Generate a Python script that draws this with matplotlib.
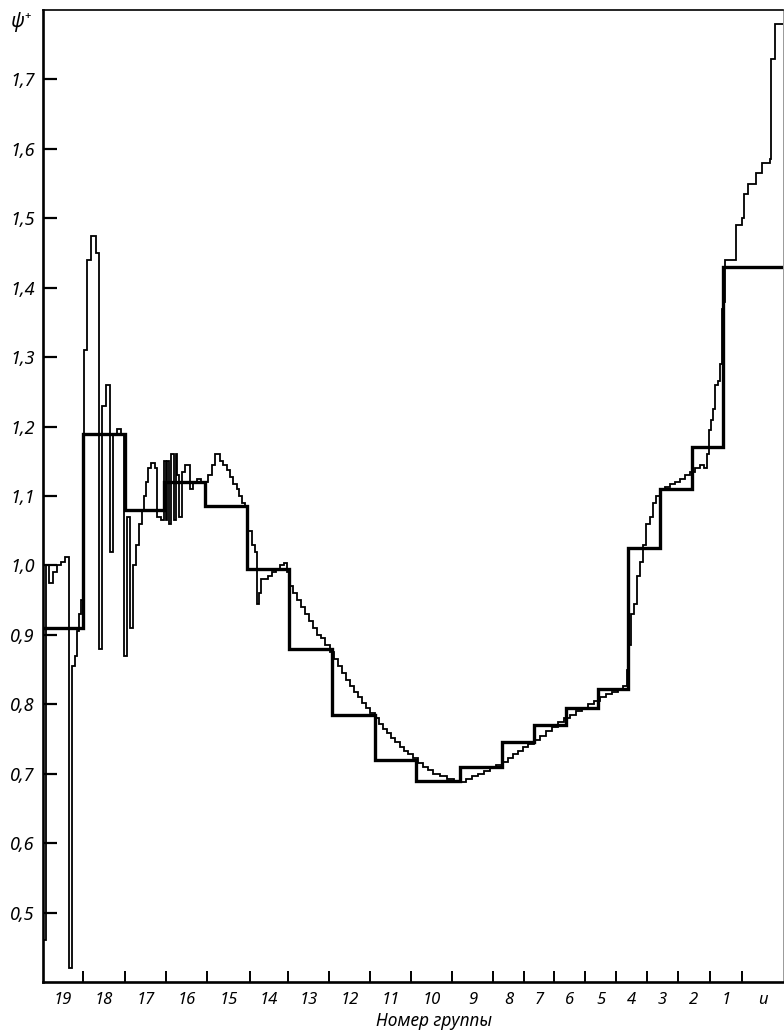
import numpy as np
import matplotlib
matplotlib.use("Agg")
import matplotlib.pyplot as plt
from matplotlib.ticker import FixedLocator, NullFormatter

plt.rcParams["font.family"] = ["Noto Sans", "DejaVu Sans"]

# ось абсцисс — летаргия в условных единицах (0..74)
X_MAX = 74.0

# групповые значения ψ+ (толстая ступенчатая линия)
group_names = ["19", "18", "17", "16", "15", "14", "13", "12", "11", "10",
               "9", "8", "7", "6", "5", "4", "3", "2", "1", "и"]
group_edges = [0.0, 4.0, 8.2, 12.1, 16.2, 20.4, 24.6, 28.9, 33.2, 37.3, 41.7,
               45.9, 49.1, 52.3, 55.5, 58.5, 61.7, 64.9, 68.0, 71.1, 74.0]
group_psi = [0.91, 1.19, 1.08, 1.12, 1.085, 0.995, 0.88, 0.785, 0.72, 0.69,
             0.71, 0.745, 0.77, 0.795, 0.822, 1.025, 1.11, 1.17, 1.43, 1.43]

# границы групп на шкале (штрихи оси)
tick_bounds = [4.0, 8.2, 12.3, 16.4, 20.7, 24.5, 28.6, 32.7, 36.8, 40.9,
               45.0, 48.1, 51.1, 54.2, 57.3, 60.4, 63.5, 66.7, 69.9]

# подробный ход ψ+ (тонкая линия), ступени «post»
fine_x = [0.0, 0.3, 0.6, 1.0, 1.4, 1.8, 2.2, 2.6, 2.9, 3.2,
          3.4, 3.6, 3.8, 4.0, 4.1, 4.4, 4.8, 5.3, 5.6, 5.9,
          6.3, 6.7, 7.0, 7.4, 7.8, 8.1, 8.4, 8.7, 9.0, 9.3,
          9.6, 9.9, 10.1, 10.3, 10.5, 10.8, 11.2, 11.4, 11.8, 12.1,
          12.3, 12.4, 12.6, 12.8, 13.1, 13.3, 13.4, 13.6, 13.9, 14.2,
          14.7, 15.0, 15.4, 15.8, 16.2, 16.5, 16.9, 17.2, 17.7, 18.0,
          18.4, 18.7, 19.0, 19.4, 19.6, 19.9, 20.2, 20.5, 20.9, 21.2,
          21.4, 21.6, 21.8, 22.2, 22.5, 22.9, 23.3, 23.7, 24.1, 24.4,
          24.7, 25.0, 25.4, 25.8, 26.2, 26.6, 27.0, 27.4, 27.8, 28.2,
          28.7, 29.1, 29.5, 29.9, 30.3, 30.7, 31.1, 31.5, 31.9, 32.3,
          32.7, 33.2, 33.6, 34.0, 34.4, 34.8, 35.2, 35.7, 36.1, 36.5,
          37.0, 37.5, 38.0, 38.5, 39.0, 39.7, 40.4, 41.1, 41.7, 42.3,
          42.9, 43.5, 44.1, 44.7, 45.3, 45.9, 46.5, 47.0, 47.5, 48.0,
          48.5, 49.1, 49.7, 50.3, 50.9, 51.5, 52.1, 52.7, 53.3, 53.9,
          54.5, 55.1, 55.7, 56.3, 56.9, 57.5, 58.0, 58.4, 58.6, 58.8,
          59.1, 59.4, 59.7, 60.0, 60.3, 60.7, 61.0, 61.3, 61.7, 62.2,
          62.7, 63.2, 63.7, 64.2, 64.7, 65.2, 65.7, 66.1, 66.4, 66.6,
          66.8, 67.0, 67.2, 67.5, 67.7, 67.9, 68.0, 68.2, 69.3, 69.9,
          70.1, 70.5, 71.3, 71.9, 72.7, 72.8, 73.2]
fine_psi = [0.46, 1.00, 0.975, 0.99, 1.00, 1.005, 1.012, 0.42, 0.855, 0.87,
            0.905, 0.93, 0.95, 1.0, 1.31, 1.44, 1.475, 1.45, 0.88, 1.23,
            1.26, 1.02, 1.19, 1.197, 1.19, 0.87, 1.07, 0.91, 1.00, 1.03,
            1.06, 1.08, 1.10, 1.12, 1.14, 1.147, 1.14, 1.07, 1.065, 1.15,
            1.065, 1.15, 1.06, 1.16, 1.065, 1.16, 1.13, 1.07, 1.135, 1.145,
            1.11, 1.12, 1.125, 1.12, 1.12, 1.13, 1.145, 1.16, 1.15, 1.145,
            1.137, 1.127, 1.117, 1.11, 1.10, 1.09, 1.085, 1.05, 1.03, 1.02,
            0.945, 0.96, 0.98, 0.98, 0.985, 0.99, 0.995, 1.0, 1.003, 0.99,
            0.97, 0.96, 0.95, 0.94, 0.93, 0.92, 0.91, 0.90, 0.895, 0.885,
            0.875, 0.865, 0.855, 0.845, 0.835, 0.826, 0.818, 0.81, 0.802, 0.795,
            0.788, 0.78, 0.772, 0.765, 0.758, 0.751, 0.745, 0.739, 0.733, 0.728,
            0.722, 0.716, 0.71, 0.705, 0.70, 0.696, 0.693, 0.69, 0.688, 0.692,
            0.697, 0.70, 0.704, 0.708, 0.712, 0.717, 0.722, 0.728, 0.733, 0.738,
            0.743, 0.748, 0.755, 0.762, 0.768, 0.774, 0.78, 0.785, 0.79, 0.795,
            0.80, 0.805, 0.81, 0.815, 0.818, 0.822, 0.826, 0.85, 0.885, 0.93,
            0.945, 0.985, 1.005, 1.03, 1.06, 1.07, 1.09, 1.10, 1.108, 1.113,
            1.117, 1.12, 1.125, 1.13, 1.135, 1.14, 1.145, 1.14, 1.16, 1.195,
            1.21, 1.225, 1.26, 1.265, 1.29, 1.37, 1.38, 1.44, 1.49, 1.50,
            1.535, 1.55, 1.565, 1.58, 1.585, 1.73, 1.78]

y_ticks = [0.5, 0.6, 0.7, 0.8, 0.9, 1.0, 1.1, 1.2, 1.3, 1.4, 1.5, 1.6, 1.7]

fig = plt.figure(figsize=(7.84, 10.32), dpi=100)
fig.patch.set_facecolor("white")
ax = fig.add_axes([43 / 784, 50 / 1032, 740 / 784, 972 / 1032])

# тонкая линия — подробный ход
ax.stairs(fine_psi, np.append(fine_x, X_MAX), baseline=None,
          color="black", linewidth=1.3, zorder=3)
# толстая линия — групповые значения
ax.stairs(group_psi, group_edges, baseline=None,
          color="black", linewidth=2.4, zorder=4)

ax.set_xlim(0, X_MAX)
ax.set_ylim(0.40, 1.80)

# ось Y
ax.set_yticks(y_ticks)
ax.set_yticklabels([f"{v:.1f}".replace(".", ",") for v in y_ticks],
                   fontsize=13, style="italic")
ax.tick_params(axis="y", direction="in", length=10, width=1.6, pad=6)

# ось X: штрихи на границах групп, подписи посередине
bounds = [0.0] + tick_bounds + [X_MAX]
mids = [(a + b) / 2 for a, b in zip(bounds[:-1], bounds[1:])]
ax.xaxis.set_major_locator(FixedLocator(tick_bounds))
ax.xaxis.set_major_formatter(NullFormatter())
ax.xaxis.set_minor_locator(FixedLocator(mids))
ax.set_xticklabels(group_names, minor=True, fontsize=12, style="italic")
ax.tick_params(axis="x", which="major", direction="in", length=8, width=1.4)
ax.tick_params(axis="x", which="minor", length=0, pad=7)

ax.set_xlabel("Номер группы", fontsize=12.5, style="italic")
ax.xaxis.set_label_coords(0.528, -0.031)

ax.annotate("ψ⁺", xy=(-0.03, 1.783), xycoords=("axes fraction", "data"),
            ha="center", va="center", fontsize=14, style="italic")

for s in ("left", "bottom"):
    ax.spines[s].set_linewidth(1.9)
ax.spines["top"].set_linewidth(1.2)
ax.spines["right"].set_linewidth(0.7)
ax.spines["right"].set_edgecolor("#999999")

fig.savefig("out.png", dpi=100, facecolor="white")
plt.close(fig)
